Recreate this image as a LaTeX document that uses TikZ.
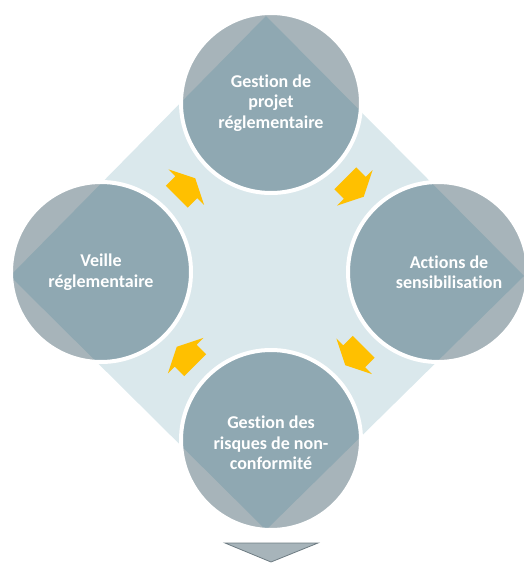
\documentclass[tikz,border=0pt]{standalone}
\usepackage{fontspec}
\setmainfont{Carlito}[Ligatures=NoCommon]
\usepackage{tikz}
\usetikzlibrary{calc}
\definecolor{fondbleu}{RGB}{218,232,236}
\definecolor{grisclair}{RGB}{167,180,186}
\definecolor{grisfonce}{RGB}{143,168,178}
\definecolor{jaune}{RGB}{255,192,0}
\definecolor{contour}{RGB}{110,124,131}
\newcommand{\fleche}[3]{\fill[jaune, shift={($(#1)!.5!(#2)$)}, rotate=#3] (-13,15.5) -- (0.5,15.5) -- (0.5,25) -- (13,0) -- (0.5,-25) -- (0.5,-15.5) -- (-13,-15.5) -- cycle;}
\tikzset{
	bulle/.style={circle, minimum size=180pt, inner sep=0pt, fill=grisclair, draw=white, line width=4pt,
		path picture={\fill[grisfonce] (dh) -- (dd) -- (db) -- (dg) -- cycle;}},
	texte/.style={text=white, align=center, font=\fontsize{18}{20.5}\selectfont\bfseries}
}

\begin{document}
\begin{tikzpicture}[x=1pt, y=-1pt]
			\useasboundingbox (0,0) rectangle (524,563);
			\coordinate (dh) at (266,16);
			\coordinate (dd) at (524,276);
			\coordinate (db) at (266,530);
			\coordinate (dg) at (10,276);
			\fill[fondbleu] (dh) -- (dd) -- (db) -- (dg) -- cycle;
			\node[bulle] (projet) at (271,103) {};
			\node[bulle] (actions) at (438,272) {};
			\node[bulle] (risques) at (271,440) {};
			\node[bulle] (veille) at (101,272) {};
			\node[texte] (projettxt) at (projet) {Gestion de\\projet\\réglementaire};
			\node[texte] (actionstxt) at ($(actions)+(11,0)$) {Actions de\\sensibilisation};
			\node[texte] (risquestxt) at ($(risques)+(0,3)$) {Gestion des\\risques de non-\\conformité};
			\node[texte] (veilletxt) at (veille) {Veille\\réglementaire};
			\fleche{veille}{projet}{45}
			\fleche{projet}{actions}{-45}
			\fleche{actions}{risques}{-135}
			\fleche{risques}{veille}{135}
			\fill[grisclair, draw=contour, line width=0.8pt] (225,543) -- (318,543) -- (271,562) -- cycle;
		\end{tikzpicture}
\end{document}
